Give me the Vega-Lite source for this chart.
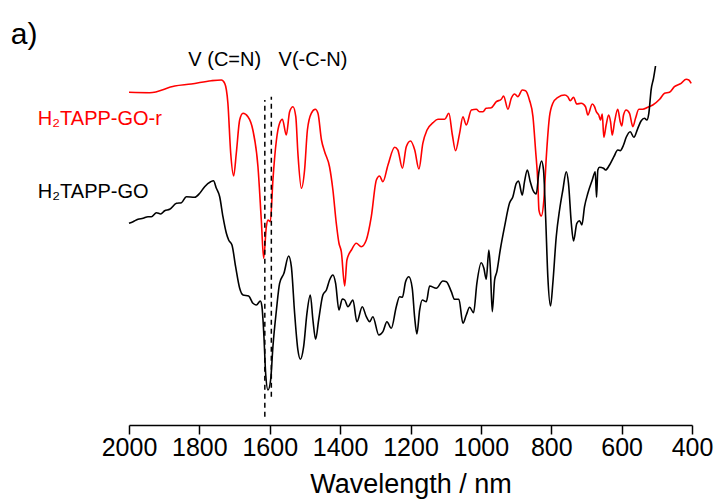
{
  "$schema": "https://vega.github.io/schema/vega-lite/v6.json",
  "width": 563,
  "height": 425,
  "autosize": {"type": "none"},
  "padding": {"left": 129, "top": 0, "right": 26, "bottom": 79},
  "config": {"view": {"stroke": null}, "font": "Liberation Sans"},
  "datasets": {
    "spectra": [
      {"s":"GO-r","w":2000,"v":333.7},{"s":"GO-r","w":1941,"v":333.3},{"s":"GO-r","w":1870,"v":340},{"s":"GO-r","w":1823,"v":342},{"s":"GO-r","w":1766,"v":345.3},{"s":"GO-r","w":1737.5,"v":346},{"s":"GO-r","w":1728,"v":342.7},{"s":"GO-r","w":1719,"v":323},{"s":"GO-r","w":1711,"v":273},{"s":"GO-r","w":1702.6,"v":250},{"s":"GO-r","w":1695,"v":273},{"s":"GO-r","w":1685.5,"v":306},{"s":"GO-r","w":1676,"v":312.7},{"s":"GO-r","w":1662,"v":309.3},{"s":"GO-r","w":1648,"v":296},{"s":"GO-r","w":1633.5,"v":259.3},{"s":"GO-r","w":1624,"v":206},{"s":"GO-r","w":1617.3,"v":167.7},{"s":"GO-r","w":1609.7,"v":199.3},{"s":"GO-r","w":1605,"v":206},{"s":"GO-r","w":1598.3,"v":204.3},{"s":"GO-r","w":1591,"v":246},{"s":"GO-r","w":1581,"v":286},{"s":"GO-r","w":1572,"v":302.7},{"s":"GO-r","w":1564,"v":306.7},{"s":"GO-r","w":1553,"v":291},{"s":"GO-r","w":1543.5,"v":314.3},{"s":"GO-r","w":1534,"v":319.3},{"s":"GO-r","w":1526,"v":309.3},{"s":"GO-r","w":1520,"v":272.7},{"s":"GO-r","w":1510,"v":237.7},{"s":"GO-r","w":1501,"v":256},{"s":"GO-r","w":1493,"v":296},{"s":"GO-r","w":1482,"v":312.7},{"s":"GO-r","w":1470.5,"v":316.7},{"s":"GO-r","w":1463,"v":312.7},{"s":"GO-r","w":1453,"v":286},{"s":"GO-r","w":1444,"v":274.3},{"s":"GO-r","w":1430,"v":259},{"s":"GO-r","w":1420.5,"v":236},{"s":"GO-r","w":1411,"v":203},{"s":"GO-r","w":1403.4,"v":183},{"s":"GO-r","w":1396.6,"v":174.3},{"s":"GO-r","w":1387,"v":140},{"s":"GO-r","w":1380.7,"v":166},{"s":"GO-r","w":1368,"v":176},{"s":"GO-r","w":1354,"v":182.7},{"s":"GO-r","w":1340,"v":179.3},{"s":"GO-r","w":1325.6,"v":186},{"s":"GO-r","w":1311.4,"v":209.3},{"s":"GO-r","w":1297,"v":246},{"s":"GO-r","w":1288,"v":250},{"s":"GO-r","w":1278.4,"v":244.3},{"s":"GO-r","w":1264,"v":261},{"s":"GO-r","w":1245,"v":278.7},{"s":"GO-r","w":1236,"v":276},{"s":"GO-r","w":1223,"v":257.7},{"s":"GO-r","w":1212,"v":279.3},{"s":"GO-r","w":1200,"v":285},{"s":"GO-r","w":1188,"v":276},{"s":"GO-r","w":1176,"v":257},{"s":"GO-r","w":1165,"v":282.7},{"s":"GO-r","w":1153,"v":296},{"s":"GO-r","w":1136,"v":303.3},{"s":"GO-r","w":1122,"v":306.7},{"s":"GO-r","w":1103,"v":306.7},{"s":"GO-r","w":1091,"v":312.7},{"s":"GO-r","w":1081,"v":291},{"s":"GO-r","w":1072,"v":275.3},{"s":"GO-r","w":1060.5,"v":292.7},{"s":"GO-r","w":1051,"v":309.3},{"s":"GO-r","w":1041.5,"v":301},{"s":"GO-r","w":1027,"v":316},{"s":"GO-r","w":1013,"v":316.7},{"s":"GO-r","w":1004,"v":314.3},{"s":"GO-r","w":994,"v":314.3},{"s":"GO-r","w":985,"v":317.7},{"s":"GO-r","w":970.5,"v":318.3},{"s":"GO-r","w":956,"v":324.3},{"s":"GO-r","w":942,"v":326.7},{"s":"GO-r","w":935.5,"v":330},{"s":"GO-r","w":923,"v":316.7},{"s":"GO-r","w":913.6,"v":327.7},{"s":"GO-r","w":904,"v":332},{"s":"GO-r","w":895,"v":329.3},{"s":"GO-r","w":882.4,"v":336},{"s":"GO-r","w":873,"v":335.3},{"s":"GO-r","w":862,"v":326},{"s":"GO-r","w":852,"v":309.3},{"s":"GO-r","w":844.6,"v":276},{"s":"GO-r","w":838,"v":242.7},{"s":"GO-r","w":835,"v":216},{"s":"GO-r","w":828.4,"v":210},{"s":"GO-r","w":821,"v":226},{"s":"GO-r","w":814,"v":269.3},{"s":"GO-r","w":805,"v":309.3},{"s":"GO-r","w":795.5,"v":322.7},{"s":"GO-r","w":781,"v":328.7},{"s":"GO-r","w":762,"v":331},{"s":"GO-r","w":753,"v":329.3},{"s":"GO-r","w":746,"v":325.3},{"s":"GO-r","w":736.7,"v":328.7},{"s":"GO-r","w":727.3,"v":322},{"s":"GO-r","w":714.8,"v":322.7},{"s":"GO-r","w":702.6,"v":319.3},{"s":"GO-r","w":696,"v":311},{"s":"GO-r","w":683.5,"v":322},{"s":"GO-r","w":677,"v":319.3},{"s":"GO-r","w":672,"v":314.3},{"s":"GO-r","w":665,"v":311},{"s":"GO-r","w":660,"v":306},{"s":"GO-r","w":655,"v":312},{"s":"GO-r","w":650.6,"v":288.7},{"s":"GO-r","w":644,"v":301},{"s":"GO-r","w":637,"v":311},{"s":"GO-r","w":631.5,"v":304.3},{"s":"GO-r","w":626.7,"v":291},{"s":"GO-r","w":620,"v":304.3},{"s":"GO-r","w":611,"v":316.7},{"s":"GO-r","w":604,"v":304.3},{"s":"GO-r","w":599.4,"v":300},{"s":"GO-r","w":594.6,"v":311},{"s":"GO-r","w":587,"v":316},{"s":"GO-r","w":577.6,"v":312.7},{"s":"GO-r","w":568,"v":299.3},{"s":"GO-r","w":560.5,"v":307.7},{"s":"GO-r","w":551,"v":316.7},{"s":"GO-r","w":540,"v":316.7},{"s":"GO-r","w":525.6,"v":318.7},{"s":"GO-r","w":511.4,"v":321},{"s":"GO-r","w":492,"v":326.7},{"s":"GO-r","w":478,"v":332.7},{"s":"GO-r","w":464,"v":333.7},{"s":"GO-r","w":450,"v":339.3},{"s":"GO-r","w":431,"v":342.7},{"s":"GO-r","w":416.5,"v":346.7},{"s":"GO-r","w":409,"v":346},{"s":"GO-r","w":402.3,"v":342.7},
      {"s":"GO","w":2000,"v":202.7},{"s":"GO","w":1988.6,"v":204.3},{"s":"GO","w":1974.4,"v":206.7},{"s":"GO","w":1960,"v":207.7},{"s":"GO","w":1946,"v":209.3},{"s":"GO","w":1936.4,"v":209.3},{"s":"GO","w":1922,"v":213.3},{"s":"GO","w":1910,"v":212},{"s":"GO","w":1898.6,"v":215.3},{"s":"GO","w":1884.4,"v":216.7},{"s":"GO","w":1865,"v":222.7},{"s":"GO","w":1851,"v":223.3},{"s":"GO","w":1837,"v":229.3},{"s":"GO","w":1813.4,"v":228.7},{"s":"GO","w":1799,"v":232.7},{"s":"GO","w":1785,"v":239.3},{"s":"GO","w":1768,"v":244.3},{"s":"GO","w":1760,"v":245.3},{"s":"GO","w":1751.7,"v":237.7},{"s":"GO","w":1742.3,"v":229.3},{"s":"GO","w":1733,"v":209.3},{"s":"GO","w":1723.3,"v":192.7},{"s":"GO","w":1716.8,"v":186},{"s":"GO","w":1707.4,"v":181},{"s":"GO","w":1697,"v":159.3},{"s":"GO","w":1685.5,"v":137.7},{"s":"GO","w":1676,"v":131},{"s":"GO","w":1660,"v":130},{"s":"GO","w":1647.7,"v":122.7},{"s":"GO","w":1638,"v":121},{"s":"GO","w":1626.7,"v":125},{"s":"GO","w":1622.2,"v":119.3},{"s":"GO","w":1616.5,"v":89.3},{"s":"GO","w":1611.7,"v":52.7},{"s":"GO","w":1605,"v":36},{"s":"GO","w":1597.5,"v":46},{"s":"GO","w":1591,"v":79.3},{"s":"GO","w":1581,"v":116},{"s":"GO","w":1572,"v":142.7},{"s":"GO","w":1559.7,"v":152.7},{"s":"GO","w":1546.3,"v":170},{"s":"GO","w":1538.6,"v":159.3},{"s":"GO","w":1529.3,"v":112.7},{"s":"GO","w":1520,"v":76},{"s":"GO","w":1513,"v":66.7},{"s":"GO","w":1503.7,"v":79.3},{"s":"GO","w":1494.3,"v":112.7},{"s":"GO","w":1484.7,"v":131},{"s":"GO","w":1477.3,"v":106},{"s":"GO","w":1469.6,"v":86.7},{"s":"GO","w":1461,"v":106},{"s":"GO","w":1449,"v":131},{"s":"GO","w":1439,"v":136},{"s":"GO","w":1430,"v":146},{"s":"GO","w":1420.5,"v":151},{"s":"GO","w":1412.8,"v":142.7},{"s":"GO","w":1403.4,"v":116},{"s":"GO","w":1393.8,"v":127},{"s":"GO","w":1387,"v":126},{"s":"GO","w":1377.8,"v":119.3},{"s":"GO","w":1363.6,"v":126},{"s":"GO","w":1352.3,"v":104.3},{"s":"GO","w":1337,"v":119.3},{"s":"GO","w":1325.6,"v":109.3},{"s":"GO","w":1316,"v":104.3},{"s":"GO","w":1307,"v":109.3},{"s":"GO","w":1290,"v":91},{"s":"GO","w":1278.4,"v":94.3},{"s":"GO","w":1267,"v":104.3},{"s":"GO","w":1254.6,"v":97.7},{"s":"GO","w":1240.4,"v":119.3},{"s":"GO","w":1231,"v":129.3},{"s":"GO","w":1223,"v":128.7},{"s":"GO","w":1214,"v":144.3},{"s":"GO","w":1204.6,"v":149.3},{"s":"GO","w":1195,"v":137.7},{"s":"GO","w":1188.4,"v":109.3},{"s":"GO","w":1181.8,"v":92},{"s":"GO","w":1174,"v":116},{"s":"GO","w":1166.5,"v":126},{"s":"GO","w":1155,"v":124.3},{"s":"GO","w":1145.7,"v":140},{"s":"GO","w":1126.7,"v":137.7},{"s":"GO","w":1108,"v":145},{"s":"GO","w":1098,"v":144.3},{"s":"GO","w":1084,"v":134.3},{"s":"GO","w":1074.7,"v":126.7},{"s":"GO","w":1062.5,"v":126.7},{"s":"GO","w":1051,"v":102.7},{"s":"GO","w":1041.5,"v":111},{"s":"GO","w":1032,"v":118.7},{"s":"GO","w":1020.8,"v":113.3},{"s":"GO","w":1011.4,"v":142.7},{"s":"GO","w":999,"v":163.3},{"s":"GO","w":991.5,"v":157.7},{"s":"GO","w":984.7,"v":146.7},{"s":"GO","w":977.3,"v":176},{"s":"GO","w":973.3,"v":159.3},{"s":"GO","w":967.6,"v":114.3},{"s":"GO","w":961,"v":146},{"s":"GO","w":954.6,"v":154.3},{"s":"GO","w":945,"v":176},{"s":"GO","w":932.7,"v":199.3},{"s":"GO","w":918.5,"v":223},{"s":"GO","w":909,"v":229.3},{"s":"GO","w":899.4,"v":242.7},{"s":"GO","w":893,"v":245},{"s":"GO","w":882.4,"v":231},{"s":"GO","w":876,"v":244.3},{"s":"GO","w":868,"v":256},{"s":"GO","w":859.7,"v":244.3},{"s":"GO","w":852.3,"v":236},{"s":"GO","w":842.7,"v":232},{"s":"GO","w":835,"v":254.3},{"s":"GO","w":827.6,"v":265},{"s":"GO","w":822,"v":256},{"s":"GO","w":816,"v":209.3},{"s":"GO","w":809.7,"v":149.3},{"s":"GO","w":802,"v":120},{"s":"GO","w":795.5,"v":142.7},{"s":"GO","w":785.8,"v":189.3},{"s":"GO","w":776.4,"v":216},{"s":"GO","w":767,"v":236},{"s":"GO","w":757.4,"v":254.3},{"s":"GO","w":751,"v":242.7},{"s":"GO","w":743,"v":202.7},{"s":"GO","w":736.7,"v":185},{"s":"GO","w":727.3,"v":202.7},{"s":"GO","w":719.6,"v":205.3},{"s":"GO","w":713,"v":201},{"s":"GO","w":705.4,"v":219.3},{"s":"GO","w":696,"v":232.7},{"s":"GO","w":683.5,"v":246},{"s":"GO","w":675,"v":254.3},{"s":"GO","w":671.3,"v":228.7},{"s":"GO","w":667.6,"v":256},{"s":"GO","w":662.8,"v":258.7},{"s":"GO","w":651.4,"v":257.7},{"s":"GO","w":645.7,"v":256},{"s":"GO","w":634.4,"v":261},{"s":"GO","w":622,"v":269.3},{"s":"GO","w":611,"v":276},{"s":"GO","w":604,"v":275.3},{"s":"GO","w":594.6,"v":281},{"s":"GO","w":587,"v":288.7},{"s":"GO","w":575.6,"v":294.3},{"s":"GO","w":565.3,"v":288.7},{"s":"GO","w":554,"v":297.7},{"s":"GO","w":544.3,"v":305.3},{"s":"GO","w":535,"v":307.7},{"s":"GO","w":528.4,"v":306},{"s":"GO","w":522.7,"v":312.7},{"s":"GO","w":516,"v":336.7},{"s":"GO","w":509.4,"v":347.7},{"s":"GO","w":503.7,"v":360}
    ],
    "guides": [
      {"w": 1614, "v1": 9.3, "v2": 326},
      {"w": 1595.5, "v1": 29.3, "v2": 329.3}
    ],
    "bands": [
      {"w": 1728, "v": 360, "text": "V (C=N)"},
      {"w": 1477, "v": 360, "text": "V(-C-N)"}
    ],
    "names": [
      {"w": 2259, "v": 301, "s": "GO-r", "text": "H₂TAPP-GO-r"},
      {"w": 2259, "v": 228, "s": "GO", "text": "H₂TAPP-GO"}
    ],
    "panel": [
      {"w": 2336, "v": 382.5, "text": "a)"}
    ]
  },
  "layer": [
    {
      "data": {"name": "spectra"},
      "mark": {"type": "line", "strokeWidth": 1.6, "interpolate": "monotone"},
      "encoding": {
        "x": {
          "field": "w", "type": "quantitative",
          "scale": {"domain": [2000, 400], "nice": false, "zero": false},
          "axis": {
            "values": [2000,1900,1800,1700,1600,1500,1400,1300,1200,1100,1000,900,800,700,600,500,400],
            "labelExpr": "datum.value % 200 === 0 ? format(datum.value, 'd') : ''",
            "grid": false,
            "domainColor": "black", "domainWidth": 1.5,
            "tickColor": "black", "tickWidth": 1.5,
            "tickSize": {"condition": {"test": "datum.value % 200 === 0", "value": 9}, "value": 5},
            "labelFontSize": 25, "labelColor": "black", "labelPadding": 1,
            "labelFlush": false, "labelOverlap": false,
            "title": "Wavelength / nm", "titleFontSize": 27, "titleFontWeight": "normal",
            "titleColor": "black", "titlePadding": 11
          }
        },
        "y": {"field": "v", "type": "quantitative", "scale": {"domain": [1, 426], "nice": false, "zero": false}, "axis": null},
        "color": {"field": "s", "type": "nominal", "scale": {"domain": ["GO-r", "GO"], "range": ["#ff0000", "#000000"]}, "legend": null},
        "order": {"field": "w", "sort": "descending"}
      }
    },
    {
      "data": {"name": "guides"},
      "mark": {"type": "rule", "color": "black", "strokeWidth": 1.5, "strokeDash": [5, 4]},
      "encoding": {
        "x": {"field": "w", "type": "quantitative"},
        "y": {"field": "v1", "type": "quantitative"},
        "y2": {"field": "v2"}
      }
    },
    {
      "data": {"name": "bands"},
      "mark": {"type": "text", "fontSize": 20, "color": "black", "align": "center", "baseline": "alphabetic"},
      "encoding": {
        "x": {"field": "w", "type": "quantitative"},
        "y": {"field": "v", "type": "quantitative"},
        "text": {"field": "text"}
      }
    },
    {
      "data": {"name": "names"},
      "mark": {"type": "text", "fontSize": 20, "align": "left", "baseline": "alphabetic"},
      "encoding": {
        "x": {"field": "w", "type": "quantitative"},
        "y": {"field": "v", "type": "quantitative"},
        "text": {"field": "text"},
        "color": {"field": "s", "type": "nominal", "legend": null}
      }
    },
    {
      "data": {"name": "panel"},
      "mark": {"type": "text", "fontSize": 30, "color": "black", "align": "left", "baseline": "alphabetic"},
      "encoding": {
        "x": {"field": "w", "type": "quantitative"},
        "y": {"field": "v", "type": "quantitative"},
        "text": {"field": "text"}
      }
    }
  ]
}
